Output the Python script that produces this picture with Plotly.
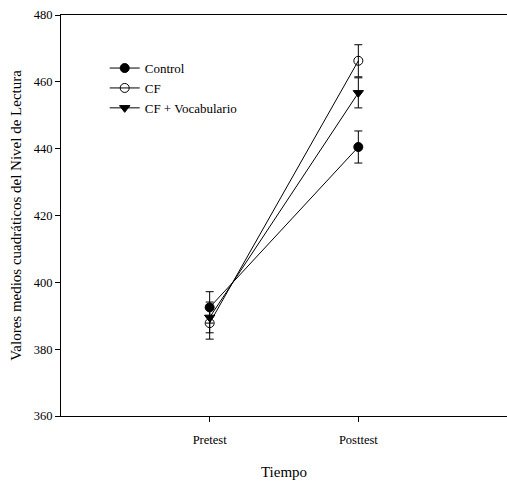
import plotly.graph_objects as go

categories = ["Pretest", "Posttest"]
series_names = ["Control", "CF", "CF + Vocabulario"]
control_vals = [392.5, 440.5]
control_err = [4.7, 4.8]
cf_vals = [387.8, 466.3]
cf_err = [4.8, 4.8]
cfvoc_vals = [389.5, 456.7]
cfvoc_err = [4.6, 4.5]
y_ticks = [360, 380, 400, 420, 440, 460, 480]

symbols = ["circle", "circle-open", "triangle-down"]
values = [control_vals, cf_vals, cfvoc_vals]
errors = [control_err, cf_err, cfvoc_err]

FONT = "Liberation Serif, Times New Roman, serif"
fig = go.Figure()
for name, vals, errs, sym in zip(series_names, values, errors, symbols):
    fig.add_trace(go.Scatter(
        x=categories, y=vals, name=name, mode="lines+markers",
        line=dict(color="black", width=1),
        marker=dict(symbol=sym, size=9, color="black",
                    line=dict(color="black", width=1)),
        error_y=dict(type="data", array=errs, visible=True,
                     color="black", thickness=1, width=4),
    ))

fig.update_layout(
    width=507, height=484,
    margin=dict(l=61, r=0, t=15, b=68),
    paper_bgcolor="white", plot_bgcolor="white",
    font=dict(family=FONT, size=12, color="black"),
    showlegend=True,
    legend=dict(x=0.098, y=0.905, xanchor="left", yanchor="top",
                bgcolor="rgba(0,0,0,0)", borderwidth=0,
                font=dict(family=FONT, size=13), itemwidth=30,
                tracegroupgap=0),
    xaxis=dict(
        type="category", categoryorder="array", categoryarray=categories,
        range=[-1, 2], showgrid=False, zeroline=False,
        showline=True, linecolor="black", linewidth=1, mirror=True,
        ticks="outside", ticklen=5, tickcolor="black",
        ticklabelstandoff=7,
        tickfont=dict(family=FONT, size=12.5),
        title=dict(text="Tiempo", font=dict(family=FONT, size=15), standoff=20),
    ),
    yaxis=dict(
        range=[360, 480], tickvals=y_ticks, showgrid=False, zeroline=False,
        showline=True, linecolor="black", linewidth=1,
        ticks="outside", ticklen=5, tickcolor="black",
        tickfont=dict(family=FONT, size=12.5),
        title=dict(text="Valores medios cuadráticos del Nivel de Lectura",
                   font=dict(family=FONT, size=15), standoff=8),
    ),
)

fig.write_html("out.html")
